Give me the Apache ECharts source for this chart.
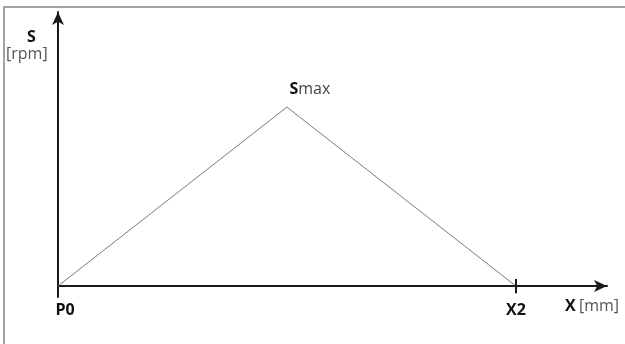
<!DOCTYPE html>
<html>
<head>
<meta charset="utf-8">
<script src="https://cdn.jsdelivr.net/npm/echarts@6/dist/echarts.min.js"></script>
<style>
  html, body { margin: 0; padding: 0; background: #fff; }
  #main { width: 625px; height: 344px; }
</style>
</head>
<body>
<div id="main"></div>
<script>
// positions along X (arbitrary mm scale) and speed S (arbitrary rpm scale)
var xValues = [0, 41.7, 83.4];
var sValues = [0, 65.3, 0];
var pointNames = ['P0', 'Smax', 'X2'];
var tickValues = [0, 83.4];
var tickLabels = ['P0', 'X2'];

var chartDom = document.getElementById('main');
var myChart = echarts.init(chartDom);
var option;

var axisColor = '#1a1a1a';
var font = '"Open Sans", sans-serif';

option = {
  backgroundColor: '#fff',
  animation: false,
  grid: { left: 58, right: 18, top: 12, bottom: 47 },
  graphic: [
    // frame (only top and left edges are visible in the reference)
    { type: 'polyline', shape: { points: [[4, 400], [4, 7], [700, 7]] },
      style: { stroke: '#a3a3a3', lineWidth: 2, fill: null }, silent: true },
    { type: 'text', left: 27, top: 29,
      style: { text: 'S', font: 'bold 16px ' + font, fill: '#111' } },
    { type: 'text', left: 6, top: 46,
      style: { text: '[rpm]', font: '16px ' + font, fill: '#555' } },
    { type: 'text', left: 565, top: 298,
      style: { rich: { b: { font: 'bold 16px ' + font, fill: '#111' }, n: { font: '16px ' + font, fill: '#555' } },
        text: '{b|X} {n|[mm]}' } }
  ],
  xAxis: {
    type: 'value',
    min: 0,
    max: 100,
    splitLine: { show: false },
    axisLine: { onZero: true, symbol: ['none', 'arrow'], symbolSize: [9, 13],
      lineStyle: { color: axisColor, width: 2 } },
    axisTick: { show: false },
    axisLabel: {
      customValues: tickValues,
      margin: 5,
      fontFamily: font,
      fontWeight: 'bold',
      fontSize: 16,
      color: '#111',
      rich: { p: { fontFamily: font, fontWeight: 'bold', fontSize: 16, color: '#111', padding: [0, 0, 0, 14] } },
      formatter: function (v) {
        var i = tickValues.indexOf(v);
        if (i < 0) return '';
        return i === 0 ? '{p|' + tickLabels[i] + '}' : tickLabels[i];
      }
    }
  },
  yAxis: {
    type: 'value',
    min: -4,
    max: 100,
    splitLine: { show: false },
    axisLine: { onZero: false, symbol: ['none', 'arrow'], symbolSize: [9, 13],
      lineStyle: { color: axisColor, width: 2 } },
    axisTick: { show: false },
    axisLabel: { show: false }
  },
  series: [
    {
      type: 'line',
      data: xValues.map(function (x, i) { return { value: [x, sValues[i]], name: pointNames[i] }; }),
      symbol: 'circle',
      symbolSize: 1,
      showSymbol: true,
      itemStyle: { color: 'rgba(0,0,0,0)', borderWidth: 0 },
      lineStyle: { color: '#7a7a7a', width: 1 },
      label: {
        show: true,
        position: 'top',
        offset: [23, -4],
        formatter: function (p) { return p.name === 'Smax' ? '{b|S}{n|max}' : ''; },
        rich: {
          b: { fontFamily: font, fontWeight: 'bold', fontSize: 16, color: '#111' },
          n: { fontFamily: font, fontSize: 16, color: '#444' }
        }
      },
      markLine: {
        silent: true,
        symbol: 'none',
        label: { show: false },
        lineStyle: { color: axisColor, width: 2, type: 'solid' },
        data: [[{ coord: [tickValues[1], -2.6] }, { coord: [tickValues[1], 2.6] }]]
      }
    }
  ]
};

option && myChart.setOption(option);
</script>
</body>
</html>
